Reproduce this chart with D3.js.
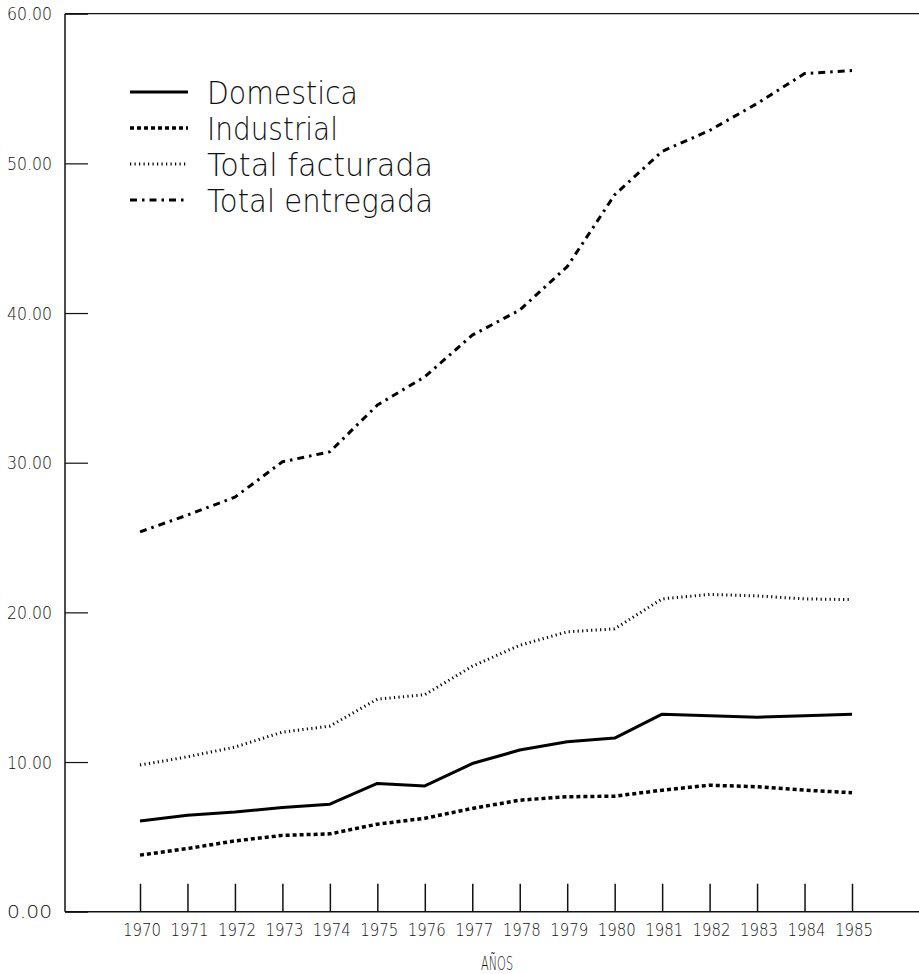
<!DOCTYPE html>
<html>
<head>
<meta charset="utf-8">
<script src="https://cdn.jsdelivr.net/npm/d3@7"></script>
<style>
  html, body { margin: 0; padding: 0; background: #fff; }
  svg { display: block; }
  text { font-family: "DejaVu Sans", "Liberation Sans", sans-serif; font-weight: 200; fill: #111; }
</style>
</head>
<body>
<svg id="chart" width="919" height="974"></svg>
<script>
// Years on the horizontal axis
const years = [1970, 1971, 1972, 1973, 1974, 1975, 1976, 1977,
               1978, 1979, 1980, 1981, 1982, 1983, 1984, 1985];

// Series values (one per year)
const domestica      = [6.06, 6.44, 6.66, 6.96, 7.18, 8.57, 8.40, 9.90,
                        10.80, 11.35, 11.60, 13.20, 13.10, 13.00, 13.10, 13.20];
const industrial     = [3.78, 4.22, 4.73, 5.10, 5.20, 5.85, 6.24, 6.90,
                        7.45, 7.68, 7.72, 8.12, 8.45, 8.35, 8.12, 7.95];
const totalFacturada = [9.80, 10.35, 11.00, 12.00, 12.40, 14.20, 14.50, 16.40,
                        17.80, 18.70, 18.90, 20.90, 21.20, 21.10, 20.90, 20.85];
const totalEntregada = [25.38, 26.50, 27.70, 30.06, 30.73, 33.85, 35.74, 38.52,
                        40.20, 43.10, 47.90, 50.80, 52.20, 54.00, 56.00, 56.20];

const seriesNames = ["Domestica", "Industrial", "Total facturada", "Total entregada"];
const yTicks = [0, 10, 20, 30, 40, 50, 60];
const xTitle = "AÑOS";

// Line styles for each series
const styles = [
  { width: 3.0, dash: null },
  { width: 3.5, dash: "4,3" },
  { width: 3.0, dash: "1.2,3.3" },
  { width: 3.0, dash: "7,5,2.5,5" }
];

const series = [domestica, industrial, totalFacturada, totalEntregada].map((vals, i) => ({
  name: seriesNames[i],
  values: years.map((yr, j) => ({ year: yr, value: vals[j] })),
  style: styles[i]
}));

const svg = d3.select("#chart");

const x = d3.scaleLinear().domain([1970, 1985]).range([140, 852]);
const y = d3.scaleLinear().domain([0, 60]).range([911.7, 13.7]);

const axisLeftX = 65;
const rightEdge = 919;

// Frame: left axis, baseline and top rule
svg.append("line")
  .attr("x1", axisLeftX).attr("x2", axisLeftX)
  .attr("y1", y(60)).attr("y2", y(0))
  .attr("stroke", "#111").attr("stroke-width", 1.5);
svg.append("line")
  .attr("x1", axisLeftX).attr("x2", rightEdge)
  .attr("y1", y(0)).attr("y2", y(0))
  .attr("stroke", "#111").attr("stroke-width", 1.5);
svg.append("line")
  .attr("x1", axisLeftX).attr("x2", rightEdge)
  .attr("y1", y(60)).attr("y2", y(60))
  .attr("stroke", "#111").attr("stroke-width", 1.2);

// Y axis with inward ticks
const yAxis = d3.axisLeft(y)
  .tickValues(yTicks)
  .tickFormat(d3.format(".2f"))
  .tickSizeInner(-23)
  .tickSizeOuter(0)
  .tickPadding(13);

const gy = svg.append("g")
  .attr("transform", `translate(${axisLeftX},0)`)
  .call(yAxis);
gy.select(".domain").remove();
gy.selectAll(".tick line").attr("stroke", "#111").attr("stroke-width", 1.2);
gy.selectAll(".tick text")
  .attr("font-size", 17)
  .attr("dy", "0.36em")
  .attr("textLength", 45)
  .attr("lengthAdjust", "spacingAndGlyphs")
  .style("font-family", "'DejaVu Sans', sans-serif")
  .attr("fill", "#111");

// X axis with upward ticks
const xAxis = d3.axisBottom(x)
  .tickValues(years)
  .tickFormat(d3.format("d"))
  .tickSizeInner(-28)
  .tickSizeOuter(0)
  .tickPadding(12);

const gx = svg.append("g")
  .attr("transform", `translate(0,${y(0)})`)
  .call(xAxis);
gx.select(".domain").remove();
gx.selectAll(".tick line").attr("stroke", "#111").attr("stroke-width", 1.5);
gx.selectAll(".tick text")
  .attr("font-size", 18)
  .attr("dy", "0.71em")
  .attr("textLength", 38)
  .attr("lengthAdjust", "spacingAndGlyphs")
  .attr("dx", 1.5)
  .style("font-family", "'DejaVu Sans', sans-serif")
  .attr("fill", "#111");

// X axis title
svg.append("text")
  .attr("x", (x(1970) + x(1985)) / 2 + 1)
  .attr("y", 970)
  .attr("text-anchor", "middle")
  .attr("font-size", 19)
  .attr("textLength", 32)
  .attr("lengthAdjust", "spacingAndGlyphs")
  .text(xTitle);

// Series lines
const line = d3.line()
  .x(d => x(d.year))
  .y(d => y(d.value));

svg.append("g")
  .selectAll("path")
  .data(series)
  .join("path")
  .attr("d", d => line(d.values))
  .attr("fill", "none")
  .attr("stroke", "#000")
  .attr("stroke-width", d => d.style.width)
  .attr("stroke-dasharray", d => d.style.dash)
  .attr("stroke-linejoin", "round");

// Legend
const legendRowsY = [92, 128, 164, 200];
const legendTextWidths = [151, 131, 226, 226];
const legend = svg.append("g");
series.forEach((s, i) => {
  const ly = legendRowsY[i];
  legend.append("line")
    .attr("x1", 130).attr("x2", 188)
    .attr("y1", ly).attr("y2", ly)
    .attr("stroke", "#000")
    .attr("stroke-width", s.style.width)
    .attr("stroke-dasharray", s.style.dash);
  legend.append("text")
    .attr("x", 207)
    .attr("y", ly + 12)
    .attr("font-size", 32)
    .attr("textLength", legendTextWidths[i])
    .attr("lengthAdjust", "spacingAndGlyphs")
    .text(s.name);
});
</script>
</body>
</html>
